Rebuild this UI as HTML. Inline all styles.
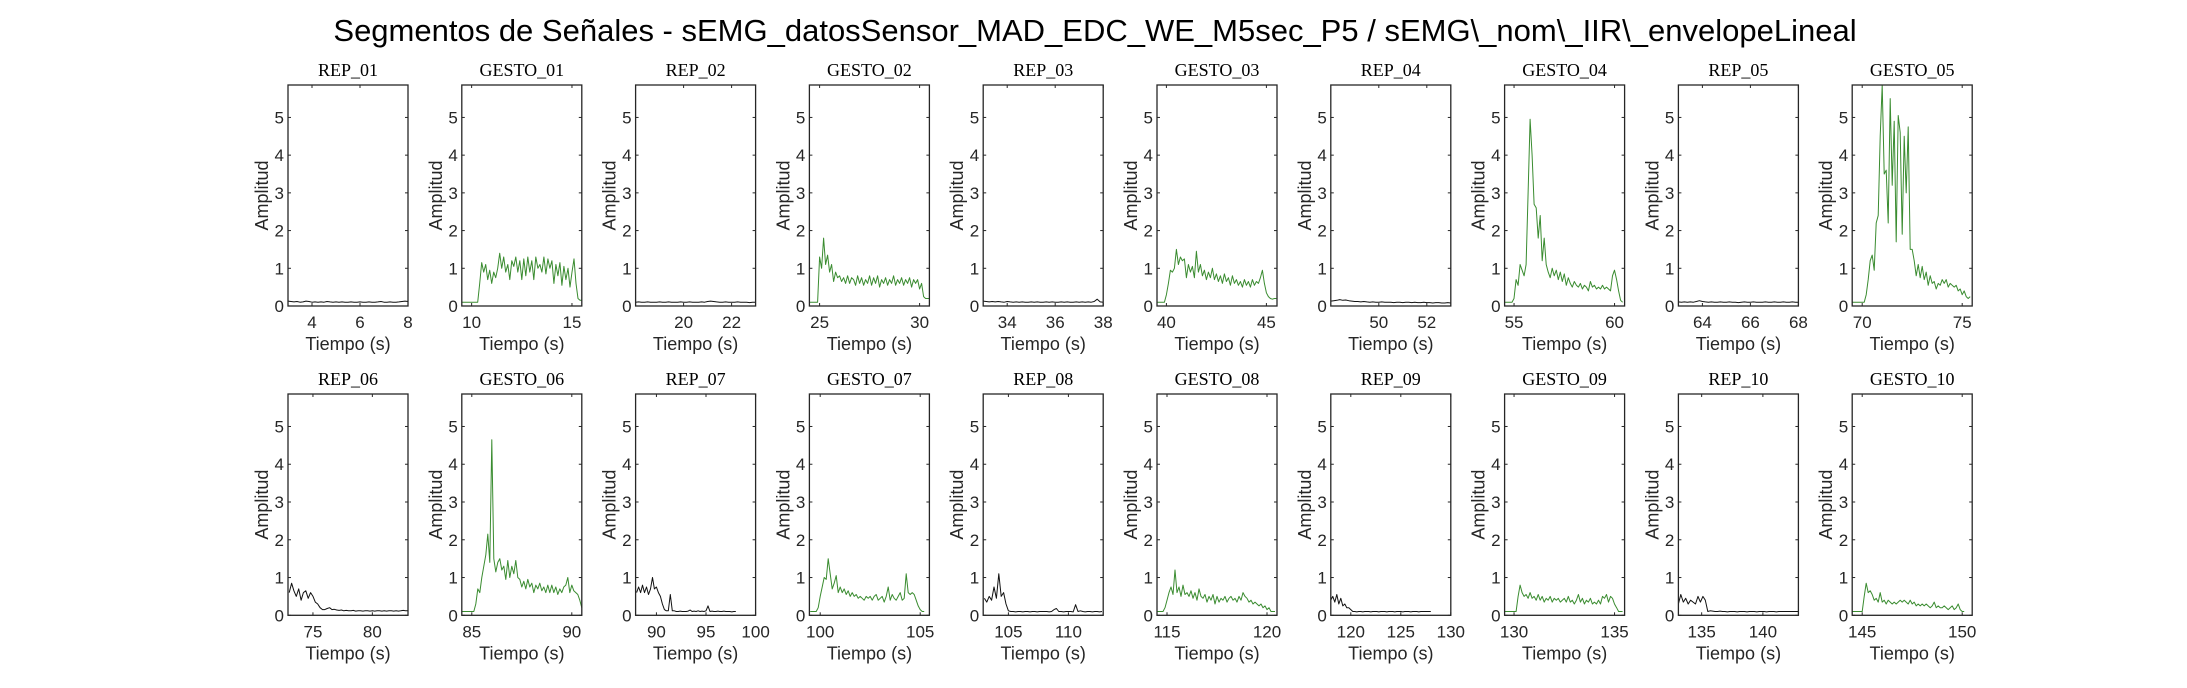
<!DOCTYPE html>
<html><head><meta charset="utf-8">
<style>
html,body{margin:0;padding:0;background:#fff;}
svg{display:block;}
text{font-family:"Liberation Sans",sans-serif;fill:#262626;}
.ttl{font-family:"Liberation Serif",serif;font-size:18px;fill:#000;}
</style></head>
<body>
<svg id="fig" width="2187" height="688" viewBox="0 0 2187 688" xmlns="http://www.w3.org/2000/svg">
<text x="1095" y="41" text-anchor="middle" style="font-size:31px;fill:#000">Segmentos de Señales - sEMG_datosSensor_MAD_EDC_WE_M5sec_P5 / sEMG\_nom\_IIR\_envelopeLineal</text>
</svg>
<script>
// ---- data ----
const panelTitles = ["REP_01","GESTO_01","REP_02","GESTO_02","REP_03","GESTO_03","REP_04","GESTO_04","REP_05","GESTO_05",
"REP_06","GESTO_06","REP_07","GESTO_07","REP_08","GESTO_08","REP_09","GESTO_09","REP_10","GESTO_10"];
const xMin = [3,9.51,18,24.49,33,39.53,48,54.53,63,69.5, 72.9,84.5,87.9,99.46,102.9,114.5,118,129.53,133.1,144.5];
const xMax = [8,15.49,23,30.49,38,45.53,53,60.5,68,75.5, 83,90.5,100,105.46,112.9,120.5,130,135.5,142.9,150.5];
const xTicks = [[4,6,8],[10,15],[20,22],[25,30],[34,36,38],[40,45],[50,52],[55,60],[64,66,68],[70,75],
[75,80],[85,90],[90,95,100],[100,105],[105,110],[115,120],[120,125,130],[130,135],[135,140],[145,150]];
const yTicks = [0,1,2,3,4,5];
const yMaxVal = 5.86;
const t0 = [3,9.5,18,24.5,33,39.5,48,54.5,63,69.5, 73,84.5,88,99.5,103,114.5,118,129.5,133.1,144.5];
const dt = [0.125,0.1,0.125,0.1,0.125,0.1,0.125,0.1,0.125,0.1, 0.2,0.1,0.2,0.1,0.2,0.1,0.2,0.1,0.2,0.1];
const s01=[0.13,0.12,0.11,0.12,0.10,0.11,0.13,0.12,0.10,0.11,0.10,0.11,0.10,0.12,0.11,0.10,0.11,0.10,0.11,0.10,0.10,0.11,0.10,0.10,0.11,0.10,0.10,0.11,0.10,0.10,0.11,0.12,0.10,0.10,0.11,0.10,0.10,0.11,0.12,0.13,0.12];
const g01=[0.1,0.1,0.1,0.1,0.1,0.1,0.1,0.1,0.1,0.6,1.15,0.9,1.1,0.7,0.95,0.6,0.9,0.75,1.0,1.4,1.0,1.3,0.9,1.1,0.7,1.2,1.05,1.3,0.9,1.2,0.7,1.25,0.8,1.3,0.9,1.2,0.7,1.3,1.0,1.1,0.9,1.3,0.85,1.25,1.0,1.2,0.6,1.1,0.8,1.15,0.55,1.05,0.7,1.0,0.5,0.9,1.25,0.6,0.2,0.15,0.15];
const s02=[0.1,0.11,0.1,0.1,0.11,0.1,0.1,0.1,0.11,0.1,0.1,0.11,0.1,0.1,0.1,0.11,0.1,0.1,0.11,0.1,0.1,0.1,0.11,0.1,0.12,0.13,0.12,0.11,0.1,0.1,0.11,0.1,0.1,0.1,0.11,0.1,0.1,0.1,0.09,0.1,0.1];
const g02=[0.1,0.1,0.1,0.1,0.1,1.3,1.0,1.8,1.1,1.35,0.9,1.1,0.65,0.9,0.75,0.8,0.65,0.75,0.6,0.8,0.6,0.75,0.7,0.55,0.8,0.6,0.75,0.55,0.7,0.6,0.8,0.55,0.75,0.6,0.8,0.5,0.7,0.6,0.75,0.55,0.7,0.6,0.8,0.55,0.7,0.6,0.75,0.55,0.7,0.6,0.75,0.5,0.7,0.6,0.7,0.45,0.6,0.25,0.2,0.2,0.2];
const s03=[0.13,0.12,0.11,0.12,0.11,0.12,0.11,0.1,0.12,0.11,0.1,0.11,0.1,0.11,0.1,0.1,0.11,0.1,0.11,0.1,0.1,0.11,0.1,0.11,0.1,0.1,0.11,0.1,0.11,0.1,0.1,0.11,0.1,0.11,0.1,0.11,0.1,0.12,0.18,0.11,0.1];
const g03=[0.1,0.1,0.1,0.1,0.1,0.3,0.6,0.95,0.9,1.0,1.5,1.1,1.3,1.2,1.25,0.75,1.1,0.9,1.05,0.75,1.45,0.9,1.1,0.8,0.95,0.7,0.9,0.75,1.0,0.7,0.85,0.65,0.8,0.6,0.85,0.65,0.75,0.55,0.8,0.6,0.7,0.55,0.65,0.5,0.7,0.55,0.65,0.5,0.7,0.55,0.65,0.6,0.75,0.95,0.6,0.35,0.25,0.2,0.18,0.2,0.2];
const s04=[0.13,0.14,0.15,0.17,0.15,0.16,0.14,0.13,0.12,0.12,0.11,0.12,0.11,0.1,0.11,0.1,0.1,0.11,0.1,0.1,0.1,0.09,0.1,0.1,0.09,0.1,0.1,0.09,0.1,0.09,0.09,0.1,0.09,0.09,0.08,0.09,0.09,0.08,0.08,0.09,0.08];
const g04=[0.1,0.1,0.1,0.1,0.1,0.2,0.7,0.55,1.1,0.95,0.8,1.1,3.0,4.95,4.0,2.7,2.6,1.8,2.4,1.2,1.8,1.1,0.9,0.75,1.0,0.8,0.95,0.7,0.9,0.65,0.85,0.55,0.75,0.6,0.5,0.65,0.55,0.5,0.6,0.45,0.55,0.5,0.4,0.65,0.5,0.55,0.45,0.5,0.45,0.55,0.45,0.5,0.45,0.4,0.8,0.95,0.7,0.4,0.15,0.1];
const s05=[0.11,0.1,0.11,0.1,0.11,0.1,0.12,0.14,0.12,0.11,0.1,0.11,0.1,0.1,0.11,0.1,0.1,0.11,0.1,0.1,0.09,0.1,0.11,0.1,0.1,0.11,0.1,0.1,0.1,0.11,0.1,0.1,0.11,0.1,0.1,0.11,0.1,0.1,0.11,0.1,0.1];
const g05=[0.1,0.1,0.1,0.1,0.1,0.1,0.1,0.3,0.7,1.2,1.35,0.95,2.2,2.4,4.5,5.86,3.5,3.6,2.2,5.5,3.2,4.9,1.7,5.05,4.6,1.9,4.5,3.0,4.75,1.5,1.5,1.2,0.8,1.1,0.75,1.05,0.7,0.9,0.55,0.8,0.6,0.65,0.45,0.6,0.55,0.7,0.6,0.7,0.5,0.6,0.55,0.5,0.55,0.4,0.45,0.3,0.4,0.25,0.2,0.25];
const s06=[0.6,0.85,0.65,0.5,0.7,0.4,0.6,0.65,0.45,0.6,0.5,0.35,0.3,0.2,0.15,0.15,0.18,0.2,0.15,0.16,0.14,0.13,0.14,0.12,0.13,0.12,0.12,0.13,0.11,0.12,0.12,0.11,0.12,0.12,0.11,0.12,0.11,0.12,0.12,0.11,0.12,0.11,0.12,0.12,0.11,0.12,0.11,0.12,0.13,0.12,0.12];
const g06=[0.1,0.1,0.1,0.1,0.1,0.1,0.1,0.3,0.7,0.6,1.0,1.3,1.6,2.15,1.4,4.65,1.5,1.15,1.4,1.5,1.2,1.3,0.95,1.45,1.0,1.3,1.1,1.45,1.0,0.95,0.75,0.9,0.7,0.95,0.75,0.85,0.6,0.8,0.7,0.85,0.65,0.75,0.6,0.8,0.6,0.8,0.6,0.75,0.55,0.7,0.6,0.75,0.8,1.0,0.6,0.8,0.65,0.6,0.55,0.4,0.2];
const s07=[0.6,0.75,0.6,0.8,0.6,0.75,0.55,0.7,1.0,0.7,0.75,0.6,0.5,0.3,0.15,0.12,0.12,0.55,0.12,0.12,0.1,0.1,0.11,0.1,0.1,0.1,0.11,0.14,0.1,0.11,0.1,0.12,0.1,0.11,0.1,0.12,0.25,0.1,0.11,0.1,0.1,0.11,0.1,0.1,0.11,0.1,0.1,0.1,0.09,0.1,0.1];
const g07=[0.1,0.1,0.1,0.1,0.2,0.5,0.75,1.0,0.95,1.5,1.1,0.7,0.85,1.05,0.6,0.75,0.6,0.7,0.55,0.65,0.5,0.6,0.5,0.55,0.45,0.5,0.45,0.4,0.5,0.45,0.5,0.4,0.5,0.55,0.4,0.45,0.5,0.35,0.5,0.75,0.4,0.55,0.45,0.4,0.5,0.6,0.4,0.45,1.1,0.6,0.55,0.6,0.55,0.4,0.25,0.15,0.1,0.1];
const s08=[0.45,0.35,0.5,0.4,0.75,0.45,1.1,0.5,0.6,0.3,0.12,0.1,0.1,0.09,0.1,0.1,0.09,0.1,0.1,0.09,0.1,0.1,0.09,0.1,0.1,0.1,0.1,0.09,0.1,0.15,0.18,0.1,0.1,0.09,0.1,0.1,0.1,0.09,0.28,0.1,0.12,0.1,0.09,0.1,0.1,0.09,0.1,0.1,0.09,0.1];
const g08=[0.1,0.1,0.1,0.1,0.2,0.4,0.6,0.75,0.55,1.2,0.6,0.75,0.5,0.8,0.55,0.6,0.5,0.65,0.45,0.6,0.4,0.7,0.5,0.45,0.55,0.35,0.5,0.4,0.55,0.3,0.5,0.35,0.45,0.4,0.5,0.35,0.45,0.5,0.4,0.45,0.35,0.5,0.4,0.6,0.5,0.45,0.35,0.4,0.3,0.35,0.3,0.25,0.3,0.2,0.25,0.15,0.2,0.1,0.1,0.1];
const s09=[0.4,0.5,0.35,0.55,0.3,0.45,0.25,0.3,0.2,0.2,0.15,0.1,0.1,0.09,0.1,0.1,0.09,0.1,0.1,0.1,0.09,0.1,0.1,0.1,0.09,0.1,0.1,0.1,0.09,0.1,0.1,0.1,0.09,0.1,0.1,0.1,0.09,0.1,0.1,0.1,0.09,0.1,0.1,0.1,0.09,0.1,0.1,0.1,0.1,0.1,0.1];
const g09=[0.1,0.1,0.1,0.1,0.1,0.1,0.1,0.5,0.8,0.6,0.5,0.55,0.45,0.6,0.45,0.5,0.4,0.55,0.4,0.5,0.35,0.45,0.4,0.5,0.35,0.45,0.4,0.45,0.35,0.4,0.45,0.35,0.5,0.35,0.4,0.3,0.4,0.55,0.35,0.45,0.3,0.4,0.35,0.45,0.3,0.35,0.3,0.4,0.3,0.5,0.45,0.55,0.35,0.5,0.45,0.3,0.2,0.1,0.1,0.1];
const s10=[0.3,0.55,0.35,0.45,0.3,0.4,0.35,0.3,0.5,0.35,0.5,0.4,0.1,0.12,0.11,0.1,0.1,0.11,0.1,0.1,0.09,0.1,0.1,0.1,0.09,0.1,0.1,0.1,0.09,0.1,0.1,0.1,0.09,0.1,0.1,0.1,0.09,0.1,0.1,0.1,0.09,0.1,0.1,0.1,0.1,0.1,0.1,0.1,0.1,0.1];
const g10=[0.1,0.1,0.1,0.1,0.1,0.1,0.5,0.85,0.6,0.65,0.55,0.4,0.45,0.35,0.6,0.35,0.4,0.3,0.4,0.35,0.3,0.35,0.3,0.35,0.4,0.35,0.4,0.35,0.3,0.4,0.3,0.35,0.25,0.3,0.25,0.3,0.25,0.3,0.25,0.2,0.25,0.35,0.2,0.25,0.2,0.2,0.25,0.2,0.15,0.2,0.25,0.15,0.2,0.3,0.15,0.1,0.1];
const seriesVals = [s01,g01,s02,g02,s03,g03,s04,g04,s05,g05,s06,g06,s07,g07,s08,g08,s09,g09,s10,g10];

// ---- drawing ----
const NS="http://www.w3.org/2000/svg";
const svg=document.getElementById('fig');
function mk(tag,attrs,parent){const e=document.createElementNS(NS,tag);for(const k in attrs)e.setAttribute(k,attrs[k]);(parent||svg).appendChild(e);return e;}
const PW=120, rowTop=[85,394], rowBot=[306,615.3];
for(let p=0;p<20;p++){
  const col=p%10, row=Math.floor(p/10);
  const L=288+col*173.8, R=L+PW, T=rowTop[row], B=rowBot[row];
  const xs=v=>L+(v-xMin[p])/(xMax[p]-xMin[p])*PW;
  const ys=v=>B-(v/yMaxVal)*(B-T);
  const g=mk('g',{});
  
  
  const isG=panelTitles[p].startsWith('GESTO');
  const pts=seriesVals[p].map((v,i)=>{const t=t0[p]+i*dt[p];return [Math.min(Math.max(xs(t),L),R),ys(v)];});
  const pl=mk('polyline',{points:pts.map(a=>a[0].toFixed(1)+','+a[1].toFixed(1)).join(' '),fill:'none',stroke:isG?'#3a8c30':'#111','stroke-width':1,'stroke-linejoin':'round'},g);
  
  
  const box=mk('rect',{x:L,y:T,width:PW,height:B-T,fill:'none',stroke:'#262626','stroke-width':1.3},g);
  
  
  yTicks.forEach(v=>{
    const y=ys(v);
    mk('line',{x1:L,x2:L+3,y1:y,y2:y,stroke:'#262626','stroke-width':1},g);
    mk('line',{x1:R,x2:R-3,y1:y,y2:y,stroke:'#262626','stroke-width':1},g);
    const t=mk('text',{x:L-4,y:y+6,'text-anchor':'end','font-size':17},g);
    t.textContent=v;
    
    
  });
  xTicks[p].forEach(v=>{
    const x=xs(v);
    mk('line',{x1:x,x2:x,y1:B,y2:B-3,stroke:'#262626','stroke-width':1},g);
    mk('line',{x1:x,x2:x,y1:T,y2:T+3,stroke:'#262626','stroke-width':1},g);
    const t=mk('text',{x:x,y:B+22,'text-anchor':'middle','font-size':17},g);
    t.textContent=v;
    
    
  });
  const xl=mk('text',{x:L+PW/2,y:B+44,'text-anchor':'middle','font-size':18},g);
  xl.textContent='Tiempo (s)';
  
  
  const yc=(T+B)/2;
  const yl=mk('text',{x:L-20,y:yc,'text-anchor':'middle','font-size':18,transform:'rotate(-90 '+(L-20)+' '+yc+')'},g);
  yl.textContent='Amplitud';
  
  
  const tt=mk('text',{x:L+PW/2,y:T-9,'text-anchor':'middle','class':'ttl'},g);
  tt.textContent=panelTitles[p];
  
  
}
</script>
</body></html>
